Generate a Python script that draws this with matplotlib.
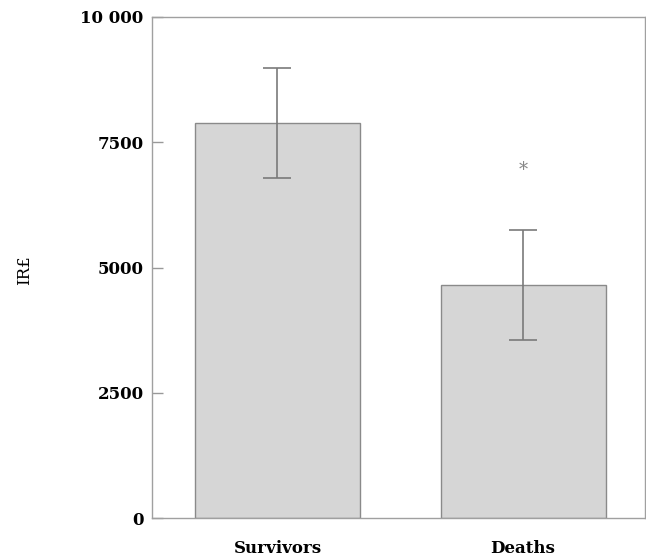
import numpy as np
import matplotlib
matplotlib.use("Agg")
import matplotlib.pyplot as plt

groups = ["Survivors", "Deaths"]
means = [7880, 4650]
errs = [1100, 1100]
yticks = [0, 2500, 5000, 7500, 10000]
ytick_labels = ["0", "2500", "5000", "7500", "10 000"]
star_value = 6950  # asterisk above Deaths bar

plt.rcParams['font.family'] = ['DejaVu Serif']

fig = plt.figure(figsize=(6.46, 5.59), dpi=100)
ax = fig.add_axes([0.2353, 0.0733, 0.7632, 0.8963])

x = np.arange(len(groups))
ax.bar(x, means, width=0.672, color='#d6d6d6', edgecolor='#8a8a8a', linewidth=1.0)
ax.errorbar(x, means, yerr=errs, fmt='none', ecolor='#7a7a7a', elinewidth=1.2,
            capsize=10, capthick=1.2)
ax.text(x[1], star_value, '*', ha='center', va='center', fontsize=13, color='#888888')

ax.set_xlim(-0.511, 1.497)
ax.set_ylim(0, 10000)
ax.set_yticks(yticks)
ax.set_yticklabels(ytick_labels, fontsize=12, fontweight='bold')
ax.set_xticks(x)
ax.set_xticklabels(groups, fontsize=12, fontweight='bold')
ax.tick_params(axis='y', direction='in', length=8, color='#999999', width=1, pad=6)
ax.tick_params(axis='x', length=0, pad=16)
for s in ax.spines.values():
    s.set_color('#a0a0a0')
    s.set_linewidth(1.0)

fig.text(25/646, 1-270/559, 'IR£', rotation=90, ha='center', va='center', fontsize=12)

plt.savefig('out.png', dpi=100)
